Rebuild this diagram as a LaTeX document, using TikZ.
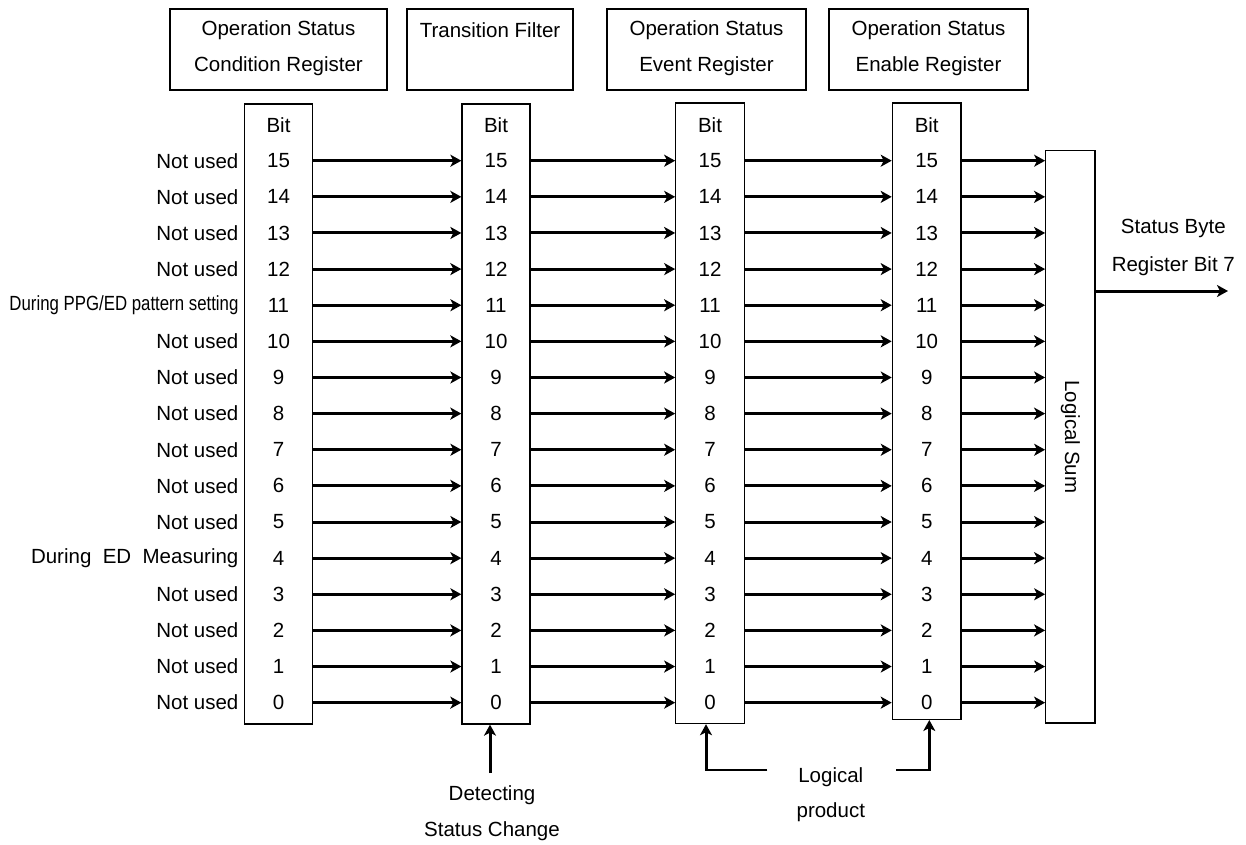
\documentclass[tikz,border=0pt]{standalone}
\usepackage{fontspec}
\setmainfont{Liberation Sans}
\usetikzlibrary{arrows.meta}
\begin{document}
\begin{tikzpicture}[x=1pt,y=-1pt,
  every node/.style={font=\fontsize{20.5}{24}\selectfont, inner sep=0pt},
  boxline/.style={draw, line width=1.3pt},
  hdrbox/.style={boxline, minimum height=81pt},
  regbox/.style={boxline},
  flow/.style={line width=3pt, -{Stealth[length=11pt,width=12pt,inset=3pt]}},
  lead/.style={line width=1.8pt},
  lbl/.style={anchor=east},
]
\useasboundingbox (0,0) rectangle (1246,844);

% register titles
\node[hdrbox, minimum width=217pt] (h1) at (278.5,49.5) {};
\node[hdrbox, minimum width=166pt] (h2) at (490,49.5) {};
\node[hdrbox, minimum width=199pt] (h3) at (706.5,49.5) {};
\node[hdrbox, minimum width=199pt] (h4) at (928.5,49.5) {};
\node (h1a) at (278.5,30) {Operation Status};
\node (h1b) at (278.5,65.7) {Condition Register};
\node (h2a) at (490,30) {Transition Filter};
\node (h3a) at (706.5,30) {Operation Status};
\node (h3b) at (706.5,65.7) {Event Register};
\node (h4a) at (928.5,30) {Operation Status};
\node (h4b) at (928.5,65.7) {Enable Register};

% bit columns
\node[regbox, minimum width=68.5pt, minimum height=620pt] (c1) at (278.5,414) {};
\node[regbox, minimum width=68pt, minimum height=620pt] (c2) at (496,414) {};
\node[regbox, minimum width=68.4pt, minimum height=620.5pt] (c3) at (710,413.3) {};
\node[regbox, minimum width=68.7pt, minimum height=616.3pt] (c4) at (926.7,411.2) {};
\node[regbox, minimum width=49.3pt, minimum height=572.3pt] (sum) at (1070.4,436.9) {};
\node[rotate=-90] (sumlabel) at (sum.center) {Logical Sum};

\foreach \c/\x in {1/278.5,2/496,3/710,4/926.7} {
  \node (bit\c) at (\x,125) {Bit};
  \foreach \k in {0,...,15}
    \node (n\c-\k) at (\x,{160.7+(15-\k)*36.13}) {\k};
}

% bit meanings
\foreach \k in {15,14,13,12,10,9,8,7,6,5,3,2,1,0}
  \node[lbl] (t\k) at ([xshift=-5pt]c1.west |- n1-\k) {Not used};
\node[lbl] (t11) at ([xshift=-5pt]c1.west |- n1-11) {\scalebox{0.82}[1]{During PPG/ED pattern setting}};
\node[lbl] (t4) at ([xshift=-5pt]c1.west |- n1-4) {During\ \ ED\ \ Measuring};

% bit paths
\foreach \k in {0,...,15} {
  \draw[flow] (n1-\k -| c1.east) -- (n2-\k -| c2.west);
  \draw[flow] (n2-\k -| c2.east) -- (n3-\k -| c3.west);
  \draw[flow] (n3-\k -| c3.east) -- (n4-\k -| c4.west);
  \draw[flow] (n4-\k -| c4.east) -- (n4-\k -| sum.west);
}

% summary output
\node (sb1) at (1173.3,228) {Status Byte};
\node (sb2) at (1173.3,265.7) {Register Bit 7};
\coordinate (outend) at (1228,291);
\draw[flow] (sum.east |- outend) -- (outend);

% transition detection
\node (dc1) at (492,795) {Detecting};
\node (dc2) at (492,830.7) {Status Change};
\coordinate (dtail) at (490,773);
\draw[flow] (dtail) -- (dtail |- c2.south);

% logical product
\node (lp1) at (830.8,776.7) {Logical};
\node (lp2) at (830.8,811.7) {product};
\coordinate (lpL) at (767.3,770);
\coordinate (lpLc) at (706,770);
\coordinate (lpR) at (896,770);
\coordinate (lpRc) at (929.3,770);
\draw[lead] (lpL) -- ([xshift=-1.5pt]lpLc);
\draw[flow] (lpLc) -- (lpLc |- c3.south);
\draw[lead] (lpR) -- ([xshift=1.5pt]lpRc);
\draw[flow] (lpRc) -- (lpRc |- c4.south);
\end{tikzpicture}
\end{document}
